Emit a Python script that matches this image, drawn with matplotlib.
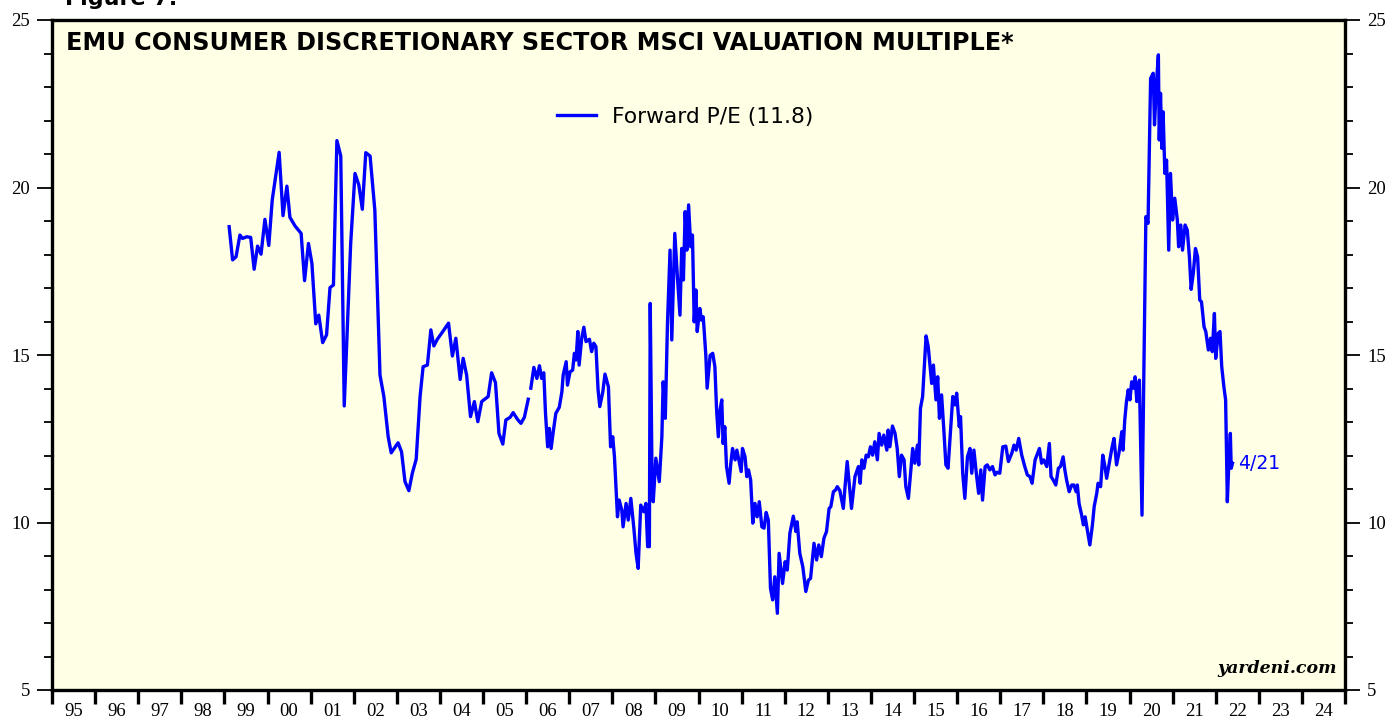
import numpy as np
import matplotlib
matplotlib.use("Agg")
import matplotlib.pyplot as plt

# EMU consumer discretionary forward P/E (decimal years)
dates = [
    1999.11, 1999.19, 1999.27, 1999.36, 1999.42, 1999.52, 1999.61, 1999.69, 1999.77, 1999.85,
    1999.94, 2000.03, 2000.11, 2000.27, 2000.36, 2000.45, 2000.52, 2000.64, 2000.78, 2000.86,
    2000.95, 2001.03, 2001.12, 2001.19, 2001.28, 2001.37, 2001.45, 2001.53, 2001.61, 2001.70,
    2001.78, 2001.93, 2002.03, 2002.12, 2002.20, 2002.28, 2002.38, 2002.49, 2002.61, 2002.70,
    2002.80, 2002.87, 2003.03, 2003.11, 2003.19, 2003.28, 2003.36, 2003.45, 2003.54, 2003.61,
    2003.71, 2003.79, 2003.86, 2003.94, 2004.04, 2004.20, 2004.29, 2004.37, 2004.47, 2004.54,
    2004.62, 2004.71, 2004.80, 2004.88, 2004.97, 2005.12, 2005.20, 2005.29, 2005.37, 2005.46,
    2005.53, 2005.63, 2005.70, 2005.80, 2005.88, 2005.96, 2006.05, 2006.08,
    2006.11, 2006.18, 2006.25, 2006.31, 2006.36, 2006.41, 2006.45, 2006.50, 2006.54, 2006.58,
    2006.63, 2006.69, 2006.77, 2006.83, 2006.86, 2006.93, 2006.96, 2007.02, 2007.08, 2007.12,
    2007.16, 2007.20, 2007.23, 2007.29, 2007.34, 2007.39, 2007.47, 2007.52, 2007.57, 2007.62,
    2007.67, 2007.71, 2007.78, 2007.83, 2007.91, 2007.96, 2008.01, 2008.05, 2008.12, 2008.16,
    2008.22, 2008.25, 2008.32, 2008.37, 2008.43, 2008.50, 2008.55, 2008.60, 2008.66, 2008.73,
    2008.78, 2008.82, 2008.86, 2008.88, 2008.92, 2008.95, 2009.01, 2009.06, 2009.09, 2009.15,
    2009.18, 2009.23, 2009.28, 2009.34, 2009.38, 2009.45, 2009.51, 2009.57, 2009.61, 2009.65,
    2009.69, 2009.73, 2009.77, 2009.82, 2009.86, 2009.90, 2009.94, 2009.97, 2010.03, 2010.07,
    2010.11, 2010.17, 2010.20, 2010.27, 2010.33, 2010.38, 2010.42, 2010.46, 2010.50, 2010.54,
    2010.57, 2010.61, 2010.65, 2010.71, 2010.75, 2010.79, 2010.85, 2010.89, 2010.95, 2010.99,
    2011.02, 2011.08, 2011.12, 2011.16, 2011.21, 2011.26, 2011.31, 2011.36, 2011.41, 2011.47,
    2011.52, 2011.57, 2011.62, 2011.67, 2011.72, 2011.77, 2011.83, 2011.87, 2011.95, 2012.01,
    2012.06, 2012.12, 2012.20, 2012.26, 2012.29, 2012.35, 2012.42, 2012.49, 2012.55, 2012.60,
    2012.68, 2012.74, 2012.79, 2012.85, 2012.91, 2012.97, 2013.03, 2013.07, 2013.13, 2013.18,
    2013.22, 2013.28, 2013.36, 2013.40, 2013.45, 2013.55, 2013.63, 2013.71, 2013.75, 2013.79,
    2013.84, 2013.89, 2013.94, 2013.99, 2014.04, 2014.09, 2014.15, 2014.19, 2014.25, 2014.30,
    2014.37, 2014.40, 2014.44, 2014.50, 2014.56, 2014.61, 2014.66, 2014.71, 2014.77, 2014.81,
    2014.87, 2014.92, 2014.97, 2015.02, 2015.08, 2015.11, 2015.15, 2015.20, 2015.28, 2015.33,
    2015.41, 2015.45, 2015.51, 2015.55, 2015.59, 2015.64, 2015.69, 2015.74, 2015.79, 2015.86,
    2015.90, 2015.95, 2015.99, 2016.05, 2016.08, 2016.13, 2016.18, 2016.24, 2016.30, 2016.34,
    2016.39, 2016.45, 2016.50, 2016.55, 2016.59, 2016.65, 2016.70, 2016.76, 2016.82, 2016.88,
    2016.93, 2016.99, 2017.06, 2017.13, 2017.19, 2017.27, 2017.32, 2017.37, 2017.43, 2017.50,
    2017.57, 2017.63, 2017.69, 2017.74, 2017.81, 2017.91, 2017.96, 2018.01, 2018.08, 2018.14,
    2018.18, 2018.23, 2018.29, 2018.35, 2018.40, 2018.46, 2018.50, 2018.54, 2018.60, 2018.66,
    2018.71, 2018.76, 2018.79, 2018.83, 2018.89, 2018.93, 2018.97, 2019.02, 2019.08, 2019.14,
    2019.18, 2019.24, 2019.27, 2019.33, 2019.38, 2019.43, 2019.47, 2019.53, 2019.59, 2019.64,
    2019.70, 2019.76, 2019.82, 2019.85, 2019.89, 2019.93, 2019.97, 2020.01, 2020.05, 2020.09,
    2020.13, 2020.17, 2020.20, 2020.23, 2020.29, 2020.38, 2020.43, 2020.49, 2020.55, 2020.58,
    2020.63, 2020.67, 2020.69, 2020.72, 2020.75, 2020.78, 2020.82, 2020.86, 2020.91, 2020.95,
    2021.00, 2021.05, 2021.11, 2021.14, 2021.19, 2021.23, 2021.29, 2021.34, 2021.39, 2021.43,
    2021.48, 2021.53, 2021.58, 2021.63, 2021.67, 2021.73, 2021.77, 2021.83, 2021.88, 2021.92,
    2021.97, 2022.00, 2022.06, 2022.10, 2022.14, 2022.19, 2022.23, 2022.27, 2022.31, 2022.34,
    2022.36, 2022.39,
]
forward_pe = [
    18.83, 17.84, 17.93, 18.58, 18.48, 18.53, 18.51, 17.56, 18.25, 18.01,
    19.05, 18.27, 19.63, 21.05, 19.16, 20.04, 19.11, 18.85, 18.63, 17.22,
    18.33, 17.74, 15.93, 16.19, 15.37, 15.60, 17.01, 17.09, 21.40, 20.94,
    13.48, 18.33, 20.42, 20.07, 19.35, 21.04, 20.94, 19.33, 14.40, 13.76,
    12.56, 12.08, 12.38, 12.11, 11.22, 10.95, 11.47, 11.89, 13.76, 14.65,
    14.70, 15.75, 15.27, 15.47, 15.65, 15.95, 14.97, 15.50, 14.27, 14.90,
    14.40, 13.16, 13.61, 13.01, 13.61, 13.76, 14.47, 14.17, 12.66, 12.34,
    13.06, 13.14, 13.28, 13.08, 12.96, 13.14, 13.68, np.nan,
    14.01, 14.63, 14.30, 14.68, 14.30, 14.47, 13.26, 12.26, 12.81, 12.21,
    12.71, 13.26, 13.44, 13.90, 14.40, 14.80, 14.10, 14.50, 14.55, 15.05,
    14.85, 15.70, 14.70, 15.50, 15.83, 15.40, 15.47, 15.10, 15.35, 15.25,
    13.96, 13.46, 13.90, 14.43, 14.05, 12.26, 12.56, 11.96, 10.17, 10.67,
    10.37, 9.87, 10.57, 10.07, 10.72, 9.83, 9.08, 8.63, 10.52, 10.32,
    10.57, 9.28, 9.28, 16.54, 11.57, 10.62, 11.92, 11.47, 11.22, 12.56,
    14.20, 13.11, 15.95, 18.13, 15.45, 18.63, 17.34, 16.19, 18.18, 17.24,
    19.28, 18.13, 19.48, 18.23, 18.58, 15.99, 16.94, 15.70, 16.39, 16.04,
    16.14, 14.99, 14.01, 14.99, 15.05, 14.65, 13.36, 12.56, 13.36, 13.66,
    12.36, 12.86, 11.67, 11.17, 11.77, 12.21, 11.87, 12.16, 11.77, 11.52,
    12.21, 11.96, 11.37, 11.57, 11.27, 9.98, 10.57, 10.17, 10.62, 9.87,
    9.83, 10.30, 10.07, 8.04, 7.69, 8.38, 7.29, 9.08, 8.18, 8.83,
    8.58, 9.68, 10.19, 9.73, 10.02, 9.08, 8.68, 7.94, 8.28, 8.33,
    9.38, 8.88, 9.33, 8.98, 9.53, 9.73, 10.42, 10.47, 10.92, 10.97,
    11.07, 10.95, 10.42, 11.07, 11.82, 10.42, 11.37, 11.67, 11.17, 11.87,
    11.62, 12.01, 11.96, 12.26, 12.01, 12.41, 11.87, 12.66, 12.31, 12.61,
    12.16, 12.76, 12.26, 12.88, 12.66, 12.21, 11.37, 12.01, 11.87, 11.07,
    10.72, 11.47, 12.21, 11.77, 12.31, 11.72, 13.41, 13.76, 15.57, 15.25,
    14.15, 14.70, 13.66, 14.35, 13.11, 13.81, 12.81, 11.72, 11.62, 12.96,
    13.76, 13.51, 13.86, 12.86, 13.16, 11.47, 10.72, 11.96, 12.21, 11.47,
    12.16, 11.42, 10.87, 11.57, 10.67, 11.67, 11.72, 11.57, 11.67, 11.42,
    11.50, 11.47, 12.26, 12.28, 11.82, 12.07, 12.31, 12.16, 12.51, 12.01,
    11.67, 11.42, 11.37, 11.17, 11.87, 12.21, 11.77, 11.87, 11.67, 12.36,
    11.37, 11.27, 11.12, 11.62, 11.67, 11.96, 11.57, 11.27, 10.92, 11.12,
    11.12, 10.92, 11.12, 10.57, 10.22, 9.93, 10.17, 9.78, 9.33, 9.93,
    10.47, 10.87, 11.17, 11.07, 12.01, 11.67, 11.32, 11.77, 12.21, 12.51,
    11.72, 12.11, 12.71, 12.16, 13.06, 13.61, 13.96, 13.66, 14.20, 14.01,
    14.35, 13.61, 14.05, 14.25, 10.22, 19.13, 18.93, 23.26, 23.41, 21.87,
    23.21, 23.96, 21.42, 22.81, 21.17, 22.26, 20.42, 20.82, 18.13, 20.42,
    19.03, 19.68, 19.03, 18.23, 18.88, 18.13, 18.88, 18.73, 17.93, 16.96,
    17.44, 18.18, 17.93, 16.64, 16.59, 15.84, 15.70, 15.15, 15.50, 15.10,
    16.24, 14.90, 15.65, 15.70, 14.65, 14.05, 13.66, 10.62, 11.96, 12.66,
    11.62, 11.77,
]

years = list(range(1995, 2025))
year_labels = [str(y)[2:] for y in years]
y_ticks = [5, 10, 15, 20, 25]

title = "EMU CONSUMER DISCRETIONARY SECTOR MSCI VALUATION MULTIPLE*"
legend_label = "Forward P/E (11.8)"
last_label = "4/21"

blue = "#0000ff"
bg = "#ffffe5"

fig = plt.figure(figsize=(13.95, 7.19), dpi=100)
ax = fig.add_axes([52 / 1395, 1 - 690 / 719, (1345 - 52) / 1395, (690 - 20) / 719])
ax.set_facecolor(bg)

ax.plot(dates, forward_pe, color=blue, lw=2.4, label=legend_label, solid_joinstyle="round")

ax.set_xlim(1995, 2025)
ax.set_ylim(5, 25)

for s in ax.spines.values():
    s.set_linewidth(2.4)

# x axis: tick marks at year boundaries, labels mid-year
ax.set_xticks(range(1995, 2026))
ax.set_xticklabels([])
ax.set_xticks([y + 0.5 for y in years], minor=True)
ax.set_xticklabels(year_labels, minor=True, family="Liberation Serif", fontsize=13.5)
ax.tick_params(axis="x", which="major", direction="out", length=10, width=2.4)
ax.tick_params(axis="x", which="minor", length=0, pad=9)

# y axis both sides
ax.set_yticks(y_ticks)
ax.set_yticks(np.arange(5, 26, 1), minor=True)
ax.tick_params(axis="y", which="major", direction="out", length=11, width=1.3,
               left=True, right=True, labelleft=True, labelright=True, pad=5)
ax.tick_params(axis="y", which="minor", direction="out", length=6, width=1.3,
               left=True, right=True)
for lab in ax.get_yticklabels():
    lab.set_family("Liberation Serif")
    lab.set_fontsize(13.5)

ax.text(0.011, 0.983, title, transform=ax.transAxes, ha="left", va="top",
        family="DejaVu Sans", fontweight="bold", fontsize=17.2)

leg = ax.legend(loc="center left", bbox_to_anchor=((557 - 52) / 1293, 1 - (117 - 20) / 670),
                frameon=False, borderpad=0, borderaxespad=0, handlelength=1.8,
                handletextpad=0.7, prop={"family": "DejaVu Sans", "size": 15.7})

ax.text(dates[-1] + 0.13, forward_pe[-1], last_label, color=blue, ha="left", va="center",
        family="DejaVu Sans", fontsize=13.5)

ax.text(0.994, 0.02, "yardeni.com", transform=ax.transAxes, ha="right", va="bottom",
        family="DejaVu Serif", fontweight="bold", style="italic", fontsize=12.5)

fig.text(65 / 1395, 1 - 5 / 719, "Figure 7.", ha="left", va="baseline",
         family="DejaVu Sans", fontweight="bold", fontsize=16)

fig.savefig("out.png", dpi=100)
